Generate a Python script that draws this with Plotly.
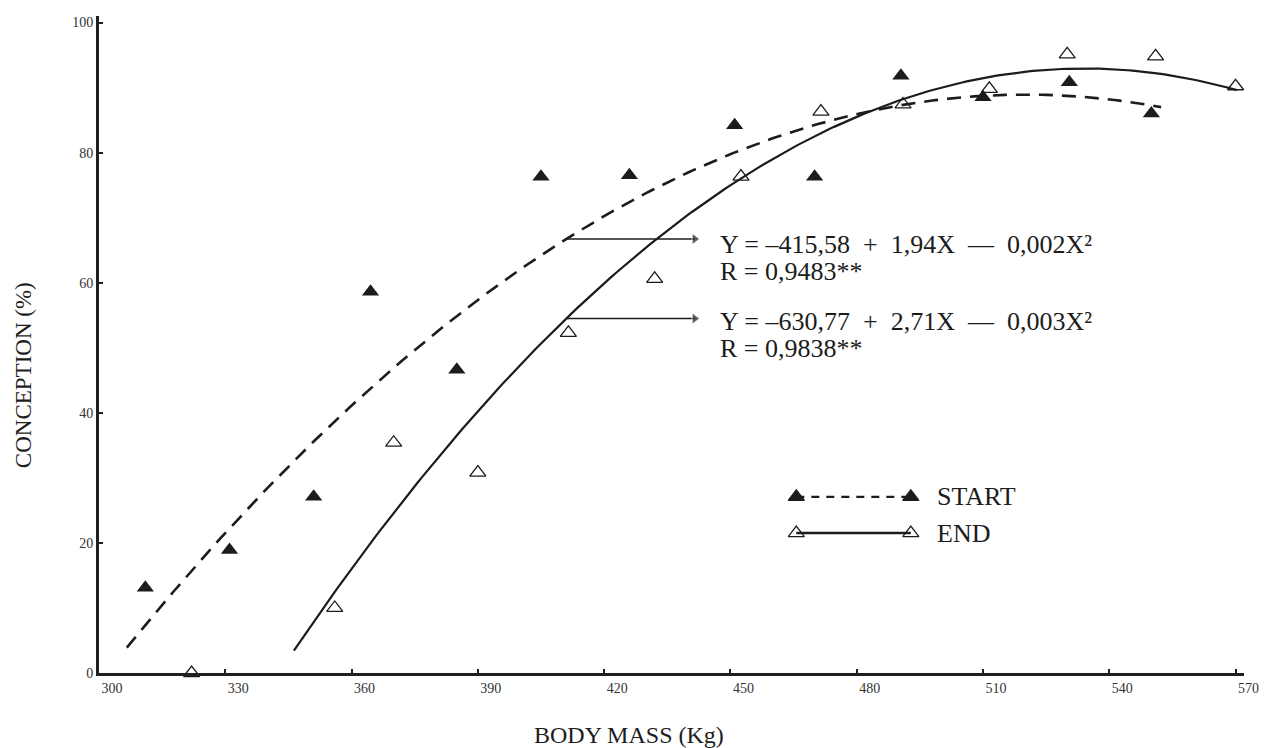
import numpy as np
import plotly.graph_objects as go

# Body mass (kg) vs conception rate (%) — cows weighed at the start of the season
start_mass = [311, 331, 351, 364.5, 385, 405, 426, 451, 470, 490.5, 510, 530.5, 550]
start_conc = [13.1, 18.9, 27.1, 58.6, 46.6, 76.3, 76.5, 84.2, 76.3, 91.8, 88.5, 90.8, 86.0]

# ... and weighed at the end of the season
end_mass = [322, 356, 370, 390, 411.5, 432, 452.5, 471.5, 491, 511.5, 530, 551, 570]
end_conc = [0, 10.0, 35.4, 30.8, 52.3, 60.6, 76.3, 86.3, 87.4, 89.8, 95.1, 94.8, 90.2]

# Quadratic regressions Y = a + bX + cX^2 (full precision; labels show them rounded)
start_coef = [-415.58, 1.94, -0.001865]
end_coef = [-630.77, 2.71, -0.002537]
start_r = 0.9483
end_r = 0.9838
start_fit_span = [306.6, 552.3]
end_fit_span = [346.3, 570.3]

x_ticks = list(range(300, 571, 30))
y_ticks = list(range(0, 101, 20))

SERIF = "Liberation Serif"
INK = "#1c1c1c"
SP = "\u2002"  # en space, for the roomy spacing around the operators


def quad(coef, x):
    a, b, c = coef
    return a + b * x + c * x ** 2


def fmt(v, nd):
    return f"{v:.{nd}f}".replace(".", ",")


def equation(coef):
    a, b, c = coef
    return (f"Y = –{fmt(abs(a), 2)}{SP}+{SP}{fmt(b, 2)}X{SP}—{SP}"
            f"{fmt(abs(c), 3)}X²")


def r_label(r):
    return f"R = {fmt(r, 4)}**"


fig = go.Figure()

# fitted curves
for coef, span, dash, w in [(start_coef, start_fit_span, "14px,9px", 2.6),
                            (end_coef, end_fit_span, "solid", 2.2)]:
    xs = np.linspace(span[0], span[1], 200)
    fig.add_trace(go.Scatter(x=xs, y=quad(coef, xs), mode="lines",
                             line=dict(color=INK, width=w, dash=dash),
                             hoverinfo="skip", showlegend=False))

# arrows from each curve towards its equation
arrow_from = 411.0
arrow_to = 441.5
for coef in (start_coef, end_coef):
    yv = float(quad(coef, arrow_from))
    fig.add_trace(go.Scatter(x=[arrow_from, arrow_to], y=[yv, yv], mode="lines+markers",
                             line=dict(color=INK, width=1.5),
                             marker=dict(symbol="triangle-right", size=[0, 10], color=INK),
                             hoverinfo="skip", showlegend=False))

# observations
fig.add_trace(go.Scatter(x=start_mass, y=start_conc, mode="markers", cliponaxis=False,
                         marker=dict(symbol="triangle-up", size=15, color=INK),
                         name="START", showlegend=False))
fig.add_trace(go.Scatter(x=end_mass, y=end_conc, mode="markers", cliponaxis=False,
                         marker=dict(symbol="triangle-up-open", size=14, color=INK,
                                     line=dict(width=1.3, color=INK)),
                         name="END", showlegend=False))

# hand-made key on an overlay [0,1] x [0,1] axis pair
key_x = [0.609, 0.709]
for ky, sym, dash in [(0.268, "triangle-up", "8px,7px"), (0.213, "triangle-up-open", "solid")]:
    fig.add_trace(go.Scatter(x=key_x, y=[ky, ky], xaxis="x2", yaxis="y2",
                             mode="lines+markers", cliponaxis=False,
                             line=dict(color=INK, width=2.4, dash=dash),
                             marker=dict(symbol=sym, size=14, color=INK,
                                         line=dict(width=1.3, color=INK)),
                             hoverinfo="skip", showlegend=False))

annotations = []
eq_font = dict(family=SERIF, size=26, color=INK)
for text, py in [(equation(start_coef), 0.652), (r_label(start_r), 0.611),
                 (equation(end_coef), 0.535), (r_label(end_r), 0.494)]:
    annotations.append(dict(x=0.541, y=py, xref="paper", yref="paper", text=text,
                            showarrow=False, xanchor="left", yanchor="middle", font=eq_font))

for text, py in [("START", 0.268), ("END", 0.213)]:
    annotations.append(dict(x=0.730, y=py, xref="paper", yref="paper", text=text,
                            showarrow=False, xanchor="left", yanchor="middle",
                            font=dict(family=SERIF, size=26, color=INK)))

# axis titles
annotations.append(dict(x=0.463, y=-0.094, xref="paper", yref="paper", text="BODY MASS (Kg)",
                        showarrow=False, xanchor="center", yanchor="middle",
                        font=dict(family=SERIF, size=24, color=INK)))
annotations.append(dict(x=-0.066, y=0.454, xref="paper", yref="paper", text="CONCEPTION (%)",
                        showarrow=False, textangle=-90, xanchor="center", yanchor="middle",
                        font=dict(family=SERIF, size=23, color=INK)))

axis_common = dict(showline=True, linewidth=3, linecolor="#202020", showgrid=False,
                   zeroline=False, ticks="inside", ticklen=4, tickwidth=2, tickcolor="#202020",
                   tickfont=dict(family=SERIF, size=14, color="#333333"))

fig.update_layout(
    width=1271, height=748, autosize=False,
    margin=dict(l=99, r=21, t=16, b=75),
    paper_bgcolor="white", plot_bgcolor="white",
    xaxis=dict(range=[300, 572], tickvals=x_ticks, ticktext=[str(v) for v in x_ticks],
               ticklabelshift=13, **axis_common),
    yaxis=dict(range=[0, 101], tickvals=y_ticks, ticktext=[str(v) for v in y_ticks],
               **axis_common),
    xaxis2=dict(overlaying="x", range=[0, 1], visible=False),
    yaxis2=dict(overlaying="y", range=[0, 1], visible=False),
    annotations=annotations,
    showlegend=False,
)

fig.write_html("out.html")
